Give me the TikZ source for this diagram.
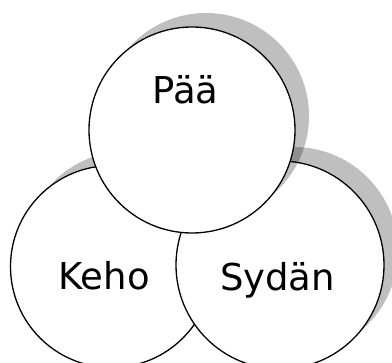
\documentclass[tikz,border=0pt]{standalone}
\usepackage{fontspec}
\setmainfont{DejaVu Sans}
\begin{document}
\begin{tikzpicture}[x=1pt,y=-1pt,
  ring/.style={circle,draw=black,line width=1.3pt,fill=white,inner sep=0pt},
  shadowdisc/.style={circle,fill=black,fill opacity=0.25,inner sep=0pt},
  lbl/.style={font=\fontsize{37}{40}\selectfont,anchor=base,inner sep=0pt}]
\useasboundingbox (0,0) rectangle (392,363);
\clip (0,0) rectangle (392,363);
% Keho
\node[shadowdisc,minimum size=202pt] (kehoS) at (125.5,252.6) {};
\node[ring,minimum size=202pt] (keho) at (111.5,266.6) {};
% Sydan
\node[shadowdisc,minimum size=208pt] (sydanS) at (294,251) {};
\node[ring,minimum size=208pt] (sydan) at (280,265) {};
% Paa
\node[shadowdisc,minimum size=206pt] (paaS) at (206,116) {};
\node[ring,minimum size=206pt] (paa) at (192,130) {};
% labels
\node[lbl] (tpaa) at (185.5,104) {Pää};
\node[lbl] (tkeho) at (104,290) {Keho};
\node[lbl] (tsydan) at (277.5,291) {Sydän};
\end{tikzpicture}
\end{document}
